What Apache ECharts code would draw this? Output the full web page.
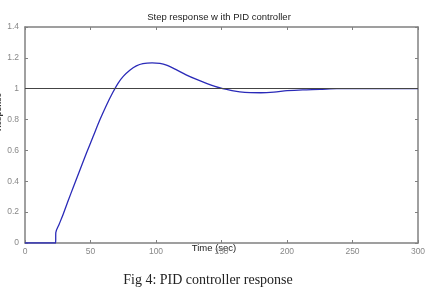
<!DOCTYPE html>
<html><head><meta charset="utf-8">
<script src="https://cdn.jsdelivr.net/npm/echarts@6/dist/echarts.min.js"></script>
<style>html,body{margin:0;padding:0;background:#fff}#c{width:432px;height:290px}</style>
</head><body><div id="c"></div>
<script>
const timeSec = [0, 23.4, 23.5, 26, 29.3, 33, 37, 42, 47, 52, 57, 62, 67, 71, 75, 80, 85, 90, 97, 103, 108, 115, 123, 131, 139, 145, 151, 158, 164, 172, 180, 190, 200, 212, 225, 238, 260, 280, 300];
const response = [0, 0, 0.067, 0.12, 0.19, 0.275, 0.365, 0.475, 0.585, 0.69, 0.795, 0.89, 0.975, 1.035, 1.08, 1.12, 1.148, 1.163, 1.168, 1.164, 1.153, 1.125, 1.09, 1.06, 1.033, 1.015, 1.0, 0.988, 0.98, 0.975, 0.974, 0.978, 0.987, 0.993, 0.996, 1.001, 1.001, 1.0, 1.0];
const xTicks = [0, 50, 100, 150, 200, 250, 300];
const yTicks = [0, 0.2, 0.4, 0.6, 0.8, 1, 1.2, 1.4];
const refLevel = 1;

const chart = echarts.init(document.getElementById('c'), null, {renderer: 'canvas'});
const grey = '#808080';
const lbl = {color: '#888', fontSize: 8.5, fontFamily: 'Liberation Sans, Arial, sans-serif'};
const frameAxisX = (pos, showLabel) => ({
  type: 'value', position: pos, min: xTicks[0], max: xTicks[xTicks.length-1], interval: 50,
  axisLine: {show: true, onZero: false, lineStyle: {color: grey, width: 1.5}},
  axisTick: {show: true, inside: true, length: 3, lineStyle: {color: grey}},
  axisLabel: showLabel ? Object.assign({show: true, margin: 4}, lbl) : {show: false},
  splitLine: {show: false}
});
const frameAxisY = (pos, showLabel) => ({
  type: 'value', position: pos, min: yTicks[0], max: yTicks[yTicks.length-1], interval: 0.2,
  axisLine: {show: true, onZero: false, lineStyle: {color: grey, width: 1.5}},
  axisTick: {show: true, inside: true, length: 3, lineStyle: {color: grey}},
  axisLabel: showLabel ? Object.assign({show: true, margin: 6, formatter: v => String(+v.toFixed(1))}, lbl) : {show: false},
  splitLine: {show: false}
});
chart.setOption({
  animation: false,
  backgroundColor: '#fff',
  title: {text: 'Step response w ith PID controller', left: 214, top: 7, textAlign: 'center',
    textStyle: {fontSize: 9.5, fontWeight: 'normal', color: '#222', fontFamily: 'Liberation Sans, Arial, sans-serif'}},
  grid: {left: 25, right: 14, top: 27, bottom: 47},
  xAxis: [frameAxisX('bottom', true), frameAxisX('top', false)],
  yAxis: [frameAxisY('left', true), frameAxisY('right', false)],
  graphic: [
    {type: 'text', x: 214, y: 248, style: {text: 'Time (sec)', fill: '#222', font: '9.5px Liberation Sans, Arial, sans-serif', align: 'center', verticalAlign: 'middle'}},
    {type: 'text', x: 3, y: 112, rotation: Math.PI/2, style: {text: 'Response', fill: '#333', font: 'bold 8px Liberation Sans, Arial, sans-serif', align: 'center', verticalAlign: 'bottom'}},
    {type: 'text', x: 208, y: 280, style: {text: 'Fig 4: PID controller response', fill: '#222', font: '14px Liberation Serif, Times New Roman, serif', align: 'center', verticalAlign: 'middle', letterSpacing: 2}}
  ],
  series: [{
    type: 'line', xAxisIndex: 0, yAxisIndex: 0, showSymbol: false, smooth: 0.3,
    data: timeSec.map((t, i) => [t, response[i]]),
    lineStyle: {color: '#2a2ab8', width: 1.3},
    markLine: {silent: true, symbol: 'none', label: {show: false},
      lineStyle: {color: '#444', width: 1, type: 'solid'}, data: [{yAxis: refLevel}]}
  }]
});
</script></body></html>
